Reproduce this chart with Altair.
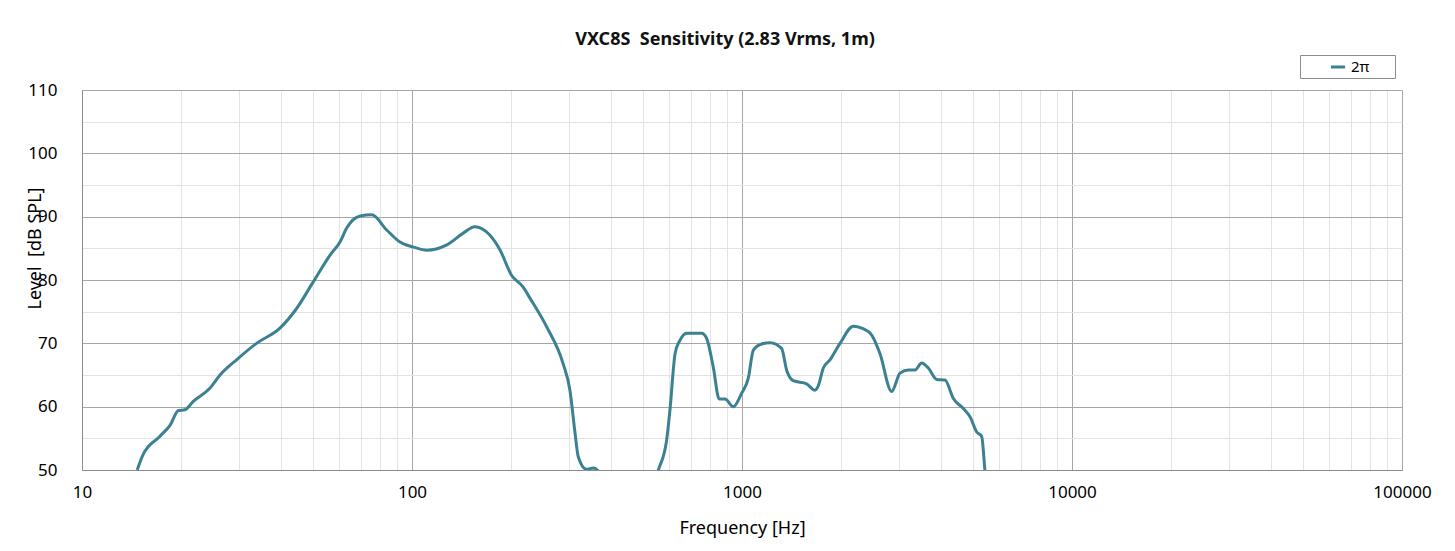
import altair as alt
import pandas as pd

freq_hz = [14.7, 15.3, 17.2, 18.5, 19.6, 20.5, 21.7, 24.4, 26.2, 29.4, 33.8, 39.8,
           44.7, 50.2, 56.4, 60.5, 63.4, 69.6, 75.5, 83.8, 91.9, 101, 110.8, 127,
           143, 155, 172, 185, 200, 217, 228, 256, 287, 301, 312, 319, 338, 354,
           371, 440, 558, 591, 605, 627, 649, 679, 755, 781, 818, 853, 888, 941,
           997, 1045, 1082, 1134, 1216, 1318, 1365, 1430, 1570, 1664, 1700, 1764,
           1848, 1982, 2175, 2305, 2472, 2618, 2841, 3012, 3192, 3344, 3504, 3670,
           3890, 4121, 4370, 4686, 4909, 5143, 5325, 5446, 5700]
level_db = [50.0, 52.4, 55.3, 57.1, 59.4, 59.5, 60.8, 62.9, 65.0, 67.4, 70.0, 72.4,
            75.5, 79.7, 83.9, 86.0, 88.2, 90.1, 90.3, 87.9, 86.0, 85.2, 84.7, 85.5,
            87.4, 88.4, 87.1, 84.7, 80.8, 78.9, 77.1, 72.6, 66.8, 62.6, 55.8, 52.1,
            50.1, 50.3, 49.6, 40.0, 50.0, 54.7, 59.5, 68.4, 70.5, 71.6, 71.6, 70.8,
            66.3, 61.2, 61.2, 60.0, 62.1, 64.5, 68.9, 69.8, 70.1, 69.2, 65.8, 64.1,
            63.6, 62.6, 63.2, 66.1, 67.4, 70.0, 72.7, 72.4, 71.3, 68.4, 62.4, 65.3,
            65.8, 65.8, 66.9, 66.1, 64.3, 64.2, 61.3, 59.7, 58.4, 56.0, 55.3, 50.0,
            40.0]
series_name = "2π"

x_ticks = [10, 20, 30, 40, 50, 60, 70, 80, 90,
           100, 200, 300, 400, 500, 600, 700, 800, 900,
           1000, 2000, 3000, 4000, 5000, 6000, 7000, 8000, 9000,
           10000, 20000, 30000, 40000, 50000, 60000, 70000, 80000, 90000, 100000]
y_ticks = [50, 55, 60, 65, 70, 75, 80, 85, 90, 95, 100, 105, 110]

df = pd.DataFrame({"freq": freq_hz, "level": level_db, "series": series_name})

FONT = "Noto Sans"
major_x = "abs(log(datum.value)/LN10 - round(log(datum.value)/LN10)) < 0.000001"

line = alt.Chart(df).mark_line(
    interpolate="monotone", strokeWidth=3, clip=True
).encode(
    x=alt.X("freq:Q",
            scale=alt.Scale(type="log", domain=[10, 100000], nice=False),
            axis=alt.Axis(
                values=x_ticks, format="d",
                labelExpr="indexof(['10','100','1000','10000','100000'], datum.label) >= 0 ? datum.label : ''",
                title="Frequency [Hz]",
                grid=True,
                gridColor={"condition": {"test": major_x, "value": "#a6a6a6"}, "value": "#e3e3e3"},
                gridWidth=1,
                ticks=False, labelPadding=14,
                labelFontSize=17, labelColor="#000", labelFont=FONT,
                titleFontSize=18, titleFont=FONT, titleFontWeight="normal",
                titleColor="#000", titlePadding=19,
                domainColor="#8c8c8c", labelFlush=False,
            )),
    y=alt.Y("level:Q",
            scale=alt.Scale(domain=[50, 110], nice=False, zero=False),
            axis=alt.Axis(
                values=y_ticks,
                labelExpr="datum.value % 10 === 0 ? datum.label : ''",
                title="Level\u00a0\u00a0[dB SPL]",
                grid=True,
                gridColor={"condition": {"test": "datum.value % 10 === 0", "value": "#a6a6a6"}, "value": "#e3e3e3"},
                gridWidth=1,
                ticks=False, labelPadding=25,
                labelFontSize=17, labelColor="#000", labelFont=FONT,
                titleFontSize=18, titleFont=FONT, titleFontWeight="normal",
                titleColor="#000", titleAngle=270, titleX=-47, titleY=158,
                titleAlign="center", titleBaseline="middle",
                domainColor="#8c8c8c",
            )),
    color=alt.Color("series:N",
                    scale=alt.Scale(range=["#3b8192"]),
                    legend=alt.Legend(
                        title=None, orient="none", legendX=1218, legendY=-35,
                        strokeColor="#8c8c8c", padding=3, symbolType="stroke",
                        symbolStrokeWidth=3, symbolSize=200, symbolOffset=26,
                        labelFontSize=15, labelFont=FONT, labelColor="#000",
                        labelExpr="datum.label + '" + "\u2800" * 2 + "'",
                    )),
)

chart = line.properties(
    width=1320, height=380,
    title=alt.TitleParams("VXC8S\u00a0\u00a0Sensitivity (2.83 Vrms, 1m)", font=FONT,
                          fontSize=18, fontWeight="bold", color="#111",
                          anchor="middle", dx=-17, offset=6),
    autosize=alt.AutoSizeParams(type="none"),
    padding={"left": 74, "top": 82, "right": 45, "bottom": 70},
).configure_view(stroke="#a6a6a6").configure(background="white")

chart.save("out.html", embed_options={"renderer": "svg", "actions": False})
